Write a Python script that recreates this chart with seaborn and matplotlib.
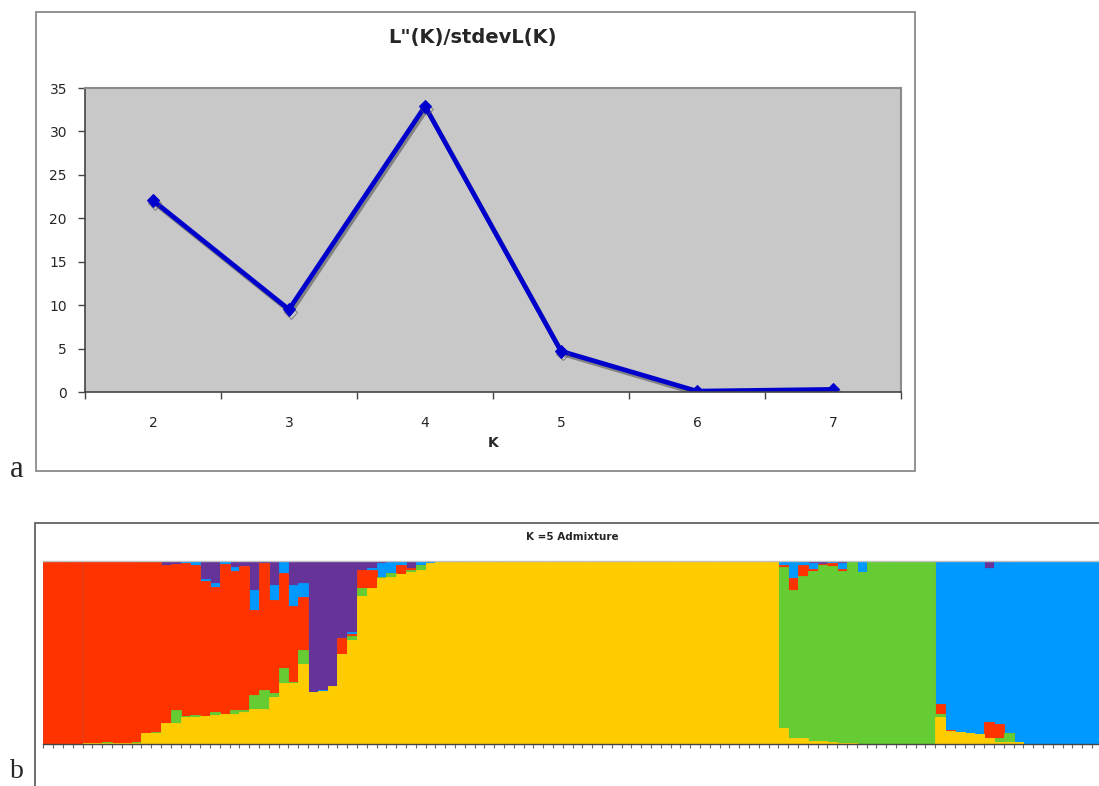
import numpy as np
import pandas as pd
import matplotlib
matplotlib.use("Agg")
import matplotlib.pyplot as plt
import matplotlib.patheffects as pe
from matplotlib.patches import Rectangle
import seaborn as sns

sns.set_style("white")
plt.rcParams["font.family"] = ["DejaVu Sans"]

# panel a: delta K values (Evanno)
k_values = [2, 3, 4, 5, 6, 7]
delta_k = [22.05, 9.5, 32.9, 4.7, 0.1, 0.3]
y_ticks = [0, 5, 10, 15, 20, 25, 30, 35]

# panel b: K=5 admixture proportions, one value per individual
yellow = [0, 0, .002, .002, .003, .003, .004, .005, .005, .008, .058, .060,
          .113, .113, .149, .149, .153, .158, .162, .162, .176, .191, .191, .258,
          .331, .331, .435, .285, .289, .318, .489, .567, .810, .849, .905, .913,
          .925, .936, .949, .990, .993, .993, .995, .995, .997, .996, .995, .996,
          .996, .997, .998, .996, .997, .999, .998, .996, .996, .997, .996, .996,
          .997, .996, .999, .998, .996, .997, .999, .996, .997, .999, .998, .999,
          1, .999, .998, .085, .035, .031, .016, .016, .009, .006, .004, .002,
          .002, .001, 0, 0, 0, 0, 0, .145, .073, .067, .058, .053,
          .031, .013, .009, .009, 0, 0, 0, 0, 0, 0, 0, 0]
green = [0, 0, 0, 0, 0, .003, .005, .002, 0, .002, .004, .004,
         0, .071, .005, .009, 0, .018, 0, .024, .010, .076, .104, .018,
         .082, .005, .078, 0, 0, 0, 0, .022, .040, 0, .005, .018,
         .005, .013, .027, 0, 0, 0, 0, 0, 0, 0, 0, 0,
         0, 0, 0, 0, 0, 0, .002, 0, .004, .003, 0, 0,
         .003, 0, 0, 0, 0, 0, 0, .004, .003, 0, 0, 0,
         0, .001, .002, .878, .805, .887, .927, .958, .960, .940, .996, .938,
         .998, .999, 1, 1, 1, 1, 1, .018, 0, 0, 0, 0,
         0, .022, .049, 0, 0, 0, 0, 0, 0, 0, 0, 0]
red = [.995, .997, .993, .995, .995, .990, .991, .990, .992, .985, .933, .931,
       .863, .796, .835, .816, .736, .682, .820, .757, .787, .464, .690, .509,
       .518, .418, .291, 0, 0, 0, .091, .009, .100, .100, 0, 0,
       .045, .009, 0, 0, 0, 0, 0, 0, 0, 0, .005, .004,
       0, 0, 0, 0, 0, 0, 0, .004, 0, 0, .004, .004,
       0, .004, 0, 0, .004, .003, 0, 0, 0, 0, 0, .001,
       0, 0, 0, .013, .064, .058, .011, .006, .020, .011, 0, 0,
       0, 0, 0, 0, 0, 0, 0, .053, .005, 0, 0, 0,
       .091, .073, 0, 0, 0, 0, 0, 0, 0, 0, 0, 0]
blue = [.003, 0, 0, .003, 0, 0, 0, 0, 0, 0, 0, 0,
        0, 0, .009, .024, .011, .018, .015, .024, 0, .109, 0, .082,
        .060, .113, .073, 0, .005, 0, 0, .015, 0, .010, .080, .060,
        .025, 0, .024, .002, .005, .007, 0, 0, .003, .004, 0, 0,
        .004, .003, 0, .004, .003, 0, 0, 0, 0, 0, 0, 0,
        0, 0, 0, .002, 0, 0, 0, 0, 0, .001, 0, 0,
        0, 0, 0, .024, .096, .015, .031, 0, .005, .033, 0, .060,
        0, 0, 0, 0, 0, 0, 0, .775, .922, .933, .942, .947,
        .836, .886, .933, .991, 1, 1, 1, 1, 1, 1, 1, 1]
purple = [.002, .003, .005, 0, .002, .004, 0, .003, .003, .005, .005, .005,
          .024, .020, .002, .002, .100, .124, .003, .033, .027, .160, .015, .133,
          .009, .133, .123, .715, .706, .682, .420, .387, .050, .041, .010, .009,
          0, .042, 0, .008, .002, 0, .005, .005, 0, 0, 0, 0,
          0, 0, .002, 0, 0, .001, 0, 0, 0, 0, 0, 0,
          0, 0, .001, 0, 0, 0, .001, 0, 0, 0, .002, 0,
          0, 0, 0, 0, 0, .009, .015, .020, .006, .010, 0, 0,
          0, 0, 0, 0, 0, 0, 0, .009, 0, 0, 0, 0,
          .042, .006, .009, 0, 0, 0, 0, 0, 0, 0, 0, 0]

cluster_colors = {"yellow": "#FFCC00", "green": "#66CC33", "red": "#FF3300",
                  "blue": "#0099FF", "purple": "#663399"}

W, H = 1099, 786
fig = plt.figure(figsize=(W / 100, H / 100), dpi=100)


def px_box(x0, y0, x1, y1):
    # pixel box (origin top-left) -> figure fraction [left, bottom, width, height]
    return [x0 / W, 1 - y1 / H, (x1 - x0) / W, (y1 - y0) / H]


# ---------------- panel a ----------------
fig.patches.append(Rectangle((36 / W, 1 - 471 / H), (915 - 36) / W, (471 - 12) / H,
                             transform=fig.transFigure, fill=False,
                             edgecolor="#8a8a8a", lw=1.3))

ax1 = fig.add_axes(px_box(85, 88, 901, 392))
ax1.set_facecolor("#C8C8C8")
sns.lineplot(x=k_values, y=delta_k, ax=ax1, color="#0000CC", linewidth=3.4,
             marker="D", markersize=6.5, markeredgecolor="#0000CC")
ax1.lines[-1].set_path_effects([
    pe.SimpleLineShadow(offset=(1.3, -2.0), shadow_color="#555555", alpha=0.6),
    pe.Normal()])

ax1.set_xlim(1.5, 7.5)
ax1.set_ylim(0, 35)
ax1.set_yticks(y_ticks)
ax1.set_xticks(np.arange(1.5, 8, 1))
ax1.set_xticklabels([])
ax1.set_xticks(k_values, minor=True)
ax1.set_xticklabels([str(k) for k in k_values], minor=True)
ax1.tick_params(axis="x", which="minor", length=0, pad=17, labelsize=10)
ax1.tick_params(axis="x", which="major", length=5, width=1, color="#444444",
                direction="out", bottom=True)
ax1.tick_params(axis="y", length=5, width=1, color="#444444", direction="out",
                left=True, pad=8, labelsize=10)
for side in ["top", "right"]:
    ax1.spines[side].set_color("#8a8a8a")
    ax1.spines[side].set_linewidth(1.5)
for side in ["left", "bottom"]:
    ax1.spines[side].set_color("#444444")
    ax1.spines[side].set_linewidth(1.2)
ax1.set_xlabel("")
ax1.set_ylabel("")

fig.text(472 / W, 1 - 37 / H, "L\"(K)/stdevL(K)", ha="center", va="center",
         fontsize=14, fontweight="bold")
fig.text(493 / W, 1 - 443 / H, "K", ha="center", va="center",
         fontsize=10, fontweight="bold")
fig.text(10 / W, 1 - 477 / H, "a", ha="left", va="baseline",
         fontsize=22, family=["Liberation Serif", "DejaVu Serif"])

# ---------------- panel b ----------------
fig.patches.append(Rectangle((35 / W, 1 - 820 / H), (1130 - 35) / W, (820 - 523) / H,
                             transform=fig.transFigure, fill=False,
                             edgecolor="#555555", lw=1.2))

df = pd.DataFrame({"yellow": yellow, "green": green, "red": red,
                   "blue": blue, "purple": purple})
df = df.div(df.sum(axis=1), axis=0)
cum = df.cumsum(axis=1)
n_ind = len(df)

bar_w = 9.8
ax2 = fig.add_axes(px_box(43.3, 560.7, 43.3 + n_ind * bar_w, 744))
for col in ["purple", "blue", "red", "green", "yellow"]:
    sns.barplot(x=df.index, y=cum[col], ax=ax2, color=cluster_colors[col],
                width=1, saturation=1, errorbar=None,
                edgecolor=cluster_colors[col], linewidth=0.6)

ax2.set_xlim(-0.5, n_ind - 0.5)
ax2.set_ylim(0, 1)
ax2.set_xticks(np.arange(n_ind + 1) - 0.5)
ax2.set_xticklabels([])
ax2.set_yticks([])
ax2.tick_params(axis="x", length=3, width=0.8, color="#666666", direction="out",
                bottom=True)
ax2.set_xlabel("")
ax2.set_ylabel("")
for side in ["left", "right"]:
    ax2.spines[side].set_visible(False)
ax2.spines["top"].set_color("#c0c0c0")
ax2.spines["top"].set_linewidth(1.0)
ax2.spines["bottom"].set_color("#444444")
ax2.spines["bottom"].set_linewidth(1.0)

fig.text(572 / W, 1 - 537 / H, "K =5 Admixture", ha="center", va="center",
         fontsize=7.5, fontweight="bold")
fig.text(10 / W, 1.5 / H, "b", ha="left", va="bottom",
         fontsize=20, family=["Liberation Serif", "DejaVu Serif"])

fig.savefig("out.png", dpi=100)
